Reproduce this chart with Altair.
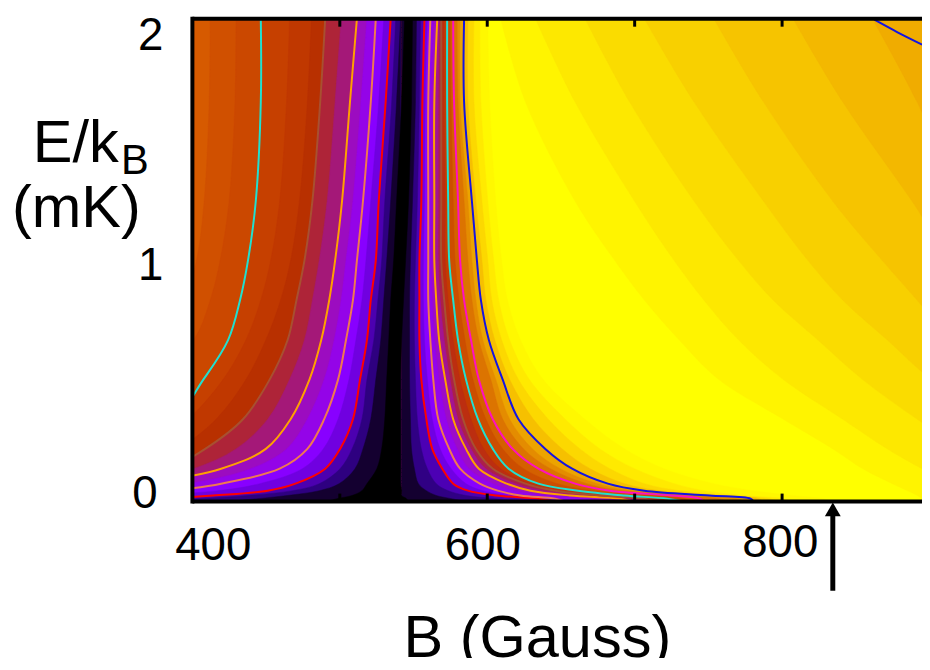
import altair as alt
import pandas as pd

E_ROWS = [2.0, 1.655, 1.244, 0.998, 0.834, 0.669, 0.505, 0.341, 0.218, 0.136, 0.074, 0.045, 0.025, 0.012, 0.0]
B_MIN, B_MAX, E_MIN, E_MAX = 400, 894.9, 0, 2
B_CENTER = 541.2
X_TICKS = [500, 600, 700, 800]
ARROW_B = 834.4
OFF_L = 336.8
OFF_R = 950

# contour lines, right branch of the resonance (B in Gauss per E row)
RED_R = [557.4, 556.0, 555.3, 554.0, 554.0, 554.0, 555.3, 558.7, 562.7, 569.5, 576.9, 586.9, 605.8, 634.7, 646.1]
SALMON_R = [561.4, 560.0, 560.0, 560.0, 560.0, 561.4, 563.4, 566.8, 574.2, 581.6, 595.0, 607.1, 622.6, 646.1, 652.9]
ORANGE_R = [566.1, 564.1, 564.1, 564.1, 565.4, 567.4, 571.5, 576.9, 585.6, 594.3, 613.2, 629.3, 656.2, 689.8, 699.9]
BROWN_R = [568.8, 568.8, 568.8, 568.8, 570.8, 573.5, 577.5, 583.6, 592.3, 603.8, 625.9, 646.1, 676.4, 706.6, 713.4]
CYAN_R = [572.8, 572.8, 573.5, 574.2, 576.9, 580.2, 585.6, 593.7, 603.8, 614.5, 634.7, 661.6, 693.2, 722.1, 733.6]
MAGENTA_R = [576.9, 577.5, 580.2, 581.6, 584.3, 589.0, 594.3, 603.8, 617.2, 634.7, 659.6, 683.1, 724.8, 744.3, 747.0]
BLUE_R = [584.3, 584.3, 589.6, 593.0, 595.7, 601.1, 610.5, 621.2, 639.4, 657.6, 681.8, 706.6, 750.4, 778.6, 780.6]

# contour lines, left branch
RED_L = [534.5, 531.1, 526.4, 524.4, 521.0, 518.4, 513.7, 508.9, 500.2, 490.1, 469.9, 451.1, 414.1, 383.9, 336.8]
SALMON_L = [524.4, 521.0, 515.7, 511.6, 508.9, 504.2, 498.8, 489.4, 478.0, 459.2, 419.5, 387.2, 350.2, 336.8, 336.8]
ORANGE_L = [511.6, 506.9, 501.5, 496.8, 492.8, 487.4, 479.4, 466.6, 449.8, 419.5, 370.4, 336.8, 336.8, 336.8, 336.8]
BROWN_L = [490.1, 486.7, 481.4, 476.0, 470.6, 464.6, 452.4, 434.3, 408.7, 383.9, 336.8, 336.8, 336.8, 336.8, 336.8]
CYAN_L = [446.4, 446.4, 443.0, 437.7, 432.3, 424.2, 407.4, 387.2, 336.8, 336.8, 336.8, 336.8, 336.8, 336.8, 336.8]

# blue contour in the top right corner
BLUE_TR_B = [862.6, 878.0, 895.0]
BLUE_TR_E = [1.996, 1.945, 1.893]

# shading levels between the contours, right branch
Y0 = [600.4, 601.7, 605.8, 609.8, 613.8, 622.6, 638.0, 666.3, 693.2, 720.1, 753.7, 780.6, 807.5, 827.7, 834.4]
Y1 = [595.0, 595.7, 600.4, 604.4, 607.8, 615.2, 628.6, 652.9, 676.4, 699.9, 726.8, 747.0, 773.9, 800.8, 807.5]
Y2 = [591.0, 591.0, 596.4, 600.4, 603.1, 609.8, 621.2, 641.4, 662.9, 683.1, 706.6, 730.2, 763.8, 790.7, 797.4]
Y3 = [586.9, 586.9, 592.3, 596.4, 599.1, 605.1, 615.2, 631.3, 650.8, 669.7, 693.2, 716.7, 757.1, 784.0, 787.3]
M3 = [581.6, 581.6, 586.9, 589.6, 592.3, 597.0, 605.8, 615.2, 630.7, 649.5, 675.0, 698.6, 740.3, 770.5, 773.9]
M2 = [579.6, 580.2, 584.3, 586.9, 589.6, 594.3, 602.4, 610.5, 624.6, 642.8, 667.6, 691.9, 733.6, 757.1, 763.8]
C2 = [574.9, 575.5, 576.9, 578.2, 580.9, 584.9, 590.3, 599.1, 610.5, 624.6, 647.5, 673.0, 710.0, 733.6, 740.3]
B2 = [570.8, 570.8, 571.5, 571.5, 573.5, 576.9, 581.6, 589.0, 597.7, 609.1, 630.0, 652.9, 685.1, 713.4, 723.5]
O2 = [567.4, 566.8, 566.8, 566.8, 568.1, 570.8, 574.8, 580.2, 589.0, 599.1, 619.2, 638.0, 666.3, 697.9, 706.6]
S2 = [563.4, 562.0, 562.0, 562.0, 562.7, 564.1, 567.4, 572.2, 579.6, 587.6, 603.8, 617.9, 639.4, 667.6, 676.4]
R2 = [559.4, 558.0, 557.4, 556.7, 556.7, 557.4, 559.4, 562.7, 568.1, 575.5, 585.6, 597.0, 613.8, 639.4, 649.5]
RA = [554.7, 554.0, 552.6, 551.3, 550.6, 550.6, 551.3, 552.6, 555.3, 559.4, 565.4, 573.5, 585.6, 605.8, 625.9]
RB = [552.0, 551.3, 549.3, 547.9, 547.3, 547.3, 547.3, 547.9, 548.6, 550.6, 553.3, 558.7, 565.4, 575.5, 585.6]
BLACK_R = [549.3, 548.6, 546.6, 544.6, 543.2, 541.9, 541.2, 541.2, 541.2, 541.2, 541.2, 541.9, 541.9, 545.2, 546.6]

# shading levels, left branch
LB = [412.1, 411.4, 408.0, 402.7, 393.9, 370.4, 336.8, 336.8, 336.8, 336.8, 336.8, 336.8, 336.8, 336.8, 336.8]
LC = [429.6, 428.9, 424.9, 418.8, 412.1, 400.7, 370.4, 336.8, 336.8, 336.8, 336.8, 336.8, 336.8, 336.8, 336.8]
LD = [465.9, 463.9, 459.2, 453.1, 446.4, 436.3, 420.8, 397.3, 370.4, 336.8, 336.8, 336.8, 336.8, 336.8, 336.8]
LE = [480.7, 478.0, 472.6, 466.6, 459.8, 449.8, 436.3, 416.1, 390.6, 363.7, 336.8, 336.8, 336.8, 336.8, 336.8]
O2L = [500.9, 496.8, 491.4, 486.0, 481.4, 476.0, 465.9, 451.1, 429.6, 400.7, 357.0, 336.8, 336.8, 336.8, 336.8]
S2L = [518.4, 514.3, 508.9, 504.2, 500.9, 496.2, 489.4, 478.0, 463.9, 439.7, 397.3, 357.0, 336.8, 336.8, 336.8]
R2L = [529.8, 526.4, 521.0, 517.7, 515.0, 510.9, 506.2, 498.8, 488.8, 474.6, 445.7, 417.5, 370.4, 336.8, 336.8]
RAL = [537.9, 535.2, 530.5, 528.4, 525.8, 523.1, 518.4, 515.0, 508.3, 500.2, 486.1, 467.9, 437.7, 404.0, 370.4]
RBL = [541.2, 538.5, 534.5, 531.8, 529.8, 527.8, 524.4, 521.0, 515.7, 510.3, 499.5, 486.1, 464.5, 444.4, 424.2]
BLACK_L = [543.9, 541.9, 538.5, 536.5, 534.5, 533.2, 531.8, 530.5, 528.4, 525.1, 518.4, 515.0, 508.3, 498.2, 491.4]

# shading levels in the yellow-to-amber top right
T1 = [609.1, 625.9, 659.6, 686.5, 706.6, 730.2, 757.1, 800.8, 834.4, 854.6, 874.8, 885.0, 891.7, 894.9, 901.7]
T2 = [632.7, 659.6, 699.9, 726.8, 747.0, 770.5, 800.8, 841.1, 871.4, 894.9, 915.0, 915.0, 915.0, 915.0, 915.0]
T3 = [666.3, 696.6, 740.3, 770.5, 794.0, 824.3, 854.6, 891.6, 921.9, 950, 950, 950, 950, 950, 950]
T4 = [706.6, 740.3, 787.4, 817.6, 841.2, 871.4, 901.7, 950, 950, 950, 950, 950, 950, 950, 950]
T5 = [753.7, 787.4, 834.4, 868.0, 891.6, 915.0, 950, 950, 950, 950, 950, 950, 950, 950, 950]
T6 = [807.5, 841.2, 888.2, 915.0, 950, 950, 950, 950, 950, 950, 950, 950, 950, 950, 950]
T7 = [861.3, 891.6, 921.9, 950, 950, 950, 950, 950, 950, 950, 950, 950, 950, 950, 950]

OVERLAYS = [(T1, "#fff400"), (T2, "#fde800"), (T3, "#fadc00"), (T4, "#f8d000"),
            (T5, "#f6c400"), (T6, "#f3b800"), (T7, "#f0ac00")]
RIGHT_LEVELS = [(Y0, "#fff800"), (Y1, "#ffea00"), (Y2, "#fcd800"), (Y3, "#f6c000"),
                (BLUE_R, "#eca400"), (M3, "#e48c00"), (M2, "#dc7400"), (MAGENTA_R, "#d46000"),
                (C2, "#cc4e00"), (CYAN_R, "#c43c00"), (B2, "#bc2e10"), (BROWN_R, "#ac2048"),
                (O2, "#a41490"), (ORANGE_R, "#9c0cc8"), (S2, "#9404ec"), (SALMON_R, "#8800ff"),
                (R2, "#7000e4"), (RED_R, "#4c00b4"), (RA, "#300084"), (RB, "#140030")]
LEFT_LEVELS = [(LB, "#d05000"), (LC, "#cb4800"), (CYAN_L, "#c64000"), (LD, "#c03800"),
               (LE, "#b83000"), (BROWN_L, "#ae2438"), (O2L, "#a41878"), (ORANGE_L, "#9c0cc0"),
               (S2L, "#9404e8"), (SALMON_L, "#8800ff"), (R2L, "#7000e0"), (RED_L, "#4c00b0"),
               (RAL, "#2e0080"), (RBL, "#140030")]
CONTOURS = [(RED_R, "#ff0000"), (SALMON_R, "#f07850"), (ORANGE_R, "#ffa000"), (BROWN_R, "#a85030"),
            (CYAN_R, "#20e0d0"), (MAGENTA_R, "#ff10c0"), (BLUE_R, "#1414e0"),
            (RED_L, "#ff0000"), (SALMON_L, "#f07850"), (ORANGE_L, "#ffa000"), (BROWN_L, "#a85030"),
            (CYAN_L, "#20e0d0")]

# text: (string, size, px x, px y of baseline, align)
LABELS = [("400", 46, 215 - 194, 562 - 16, "center"), ("600", 46, 487 - 194, 562 - 16, "center"),
          ("800", 46, 787 - 194, 559 - 16, "center"), ("2", 46, 152 - 194, 48 - 16, "center"),
          ("1", 46, 152 - 194, 280 - 16, "center"), ("0", 46, 146 - 194, 510 - 16, "center"),
          ("E/k", 60, 33 - 194, 160 - 16, "left"), ("B", 42, 122 - 194, 173 - 16, "left"),
          ("(mK)", 60, 12 - 194, 226 - 16, "left"), ("B (Gauss)", 60, 407 - 194, 660 - 16, "left")]

W, H = 736, 487
xs = alt.Scale(domain=[B_MIN, B_MAX], nice=False, zero=False)
ys = alt.Scale(domain=[E_MIN, E_MAX], nice=False, zero=False)


def band(first, second, colour):
    df = pd.DataFrame({"E": E_ROWS, "a": first, "b": second})
    return alt.Chart(df).mark_area(orient="horizontal", color=colour, clip=True, opacity=1,
                                   interpolate="catmull-rom", stroke=colour, strokeWidth=0.5).encode(
        x=alt.X("a:Q", scale=xs, axis=None), x2="b:Q", y=alt.Y("E:Q", scale=ys, axis=None))


def curve(bs, es, colour):
    df = pd.DataFrame({"E": es, "B": bs, "i": list(range(len(es)))})
    return alt.Chart(df).mark_line(color=colour, strokeWidth=2, clip=True,
                                   interpolate="catmull-rom").encode(
        x=alt.X("B:Q", scale=xs, axis=None), y=alt.Y("E:Q", scale=ys, axis=None), order="i:Q")


n = len(E_ROWS)
layers = [band([B_CENTER] * n, [OFF_R] * n, "#ffff00")]
layers += [band(c, [OFF_R] * n, col) for c, col in OVERLAYS]
layers += [band([B_CENTER] * n, c, col) for c, col in RIGHT_LEVELS]
layers += [band([OFF_L] * n, [B_CENTER] * n, "#d65a00")]
layers += [band(c, [B_CENTER] * n, col) for c, col in LEFT_LEVELS]
layers += [band(BLACK_L, BLACK_R, "#000000")]
layers += [curve(c, E_ROWS, col) for c, col in CONTOURS]
layers += [curve(BLUE_TR_B, BLUE_TR_E, "#1414e0")]

ticks = pd.DataFrame({"B": X_TICKS})
for y0, y1 in [(0, 8), (H - 8, H)]:
    layers.append(alt.Chart(ticks).mark_rule(color="black", strokeWidth=3).encode(
        x=alt.X("B:Q", scale=xs, axis=None), y=alt.value(y0), y2=alt.value(y1)))

frame = pd.DataFrame({"k": [0]})
layers.append(alt.Chart(frame).mark_rule(color="black", strokeWidth=4).encode(
    x=alt.value(0), x2=alt.value(W), y=alt.value(0)))
layers.append(alt.Chart(frame).mark_rule(color="black", strokeWidth=4).encode(
    x=alt.value(0), x2=alt.value(W), y=alt.value(H)))
layers.append(alt.Chart(frame).mark_rule(color="black", strokeWidth=4).encode(
    x=alt.value(0), y=alt.value(-2), y2=alt.value(H + 2)))

arrow = pd.DataFrame({"B": [ARROW_B]})
layers.append(alt.Chart(arrow).mark_rule(color="black", strokeWidth=5).encode(
    x=alt.X("B:Q", scale=xs, axis=None), y=alt.value(H + 8), y2=alt.value(H + 90)))
layers.append(alt.Chart(arrow).mark_point(shape="triangle-up", filled=True, size=256, color="black", opacity=1).encode(
    x=alt.X("B:Q", scale=xs, axis=None), y=alt.value(H + 8)))

for txt, size, px, py, al in LABELS:
    layers.append(alt.Chart(pd.DataFrame({"t": [txt]})).mark_text(
        font="Liberation Sans", fontSize=size, color="black", align=al, baseline="alphabetic").encode(
        x=alt.value(px), y=alt.value(py), text="t:N"))

chart = alt.layer(*layers).properties(
    width=W, height=H, autosize=alt.AutoSizeParams(type="none"),
    padding={"left": 186, "top": 8, "right": 0, "bottom": 155},
).configure_view(stroke=None)

chart.save("out.html", embed_options={"renderer": "svg", "actions": False})
